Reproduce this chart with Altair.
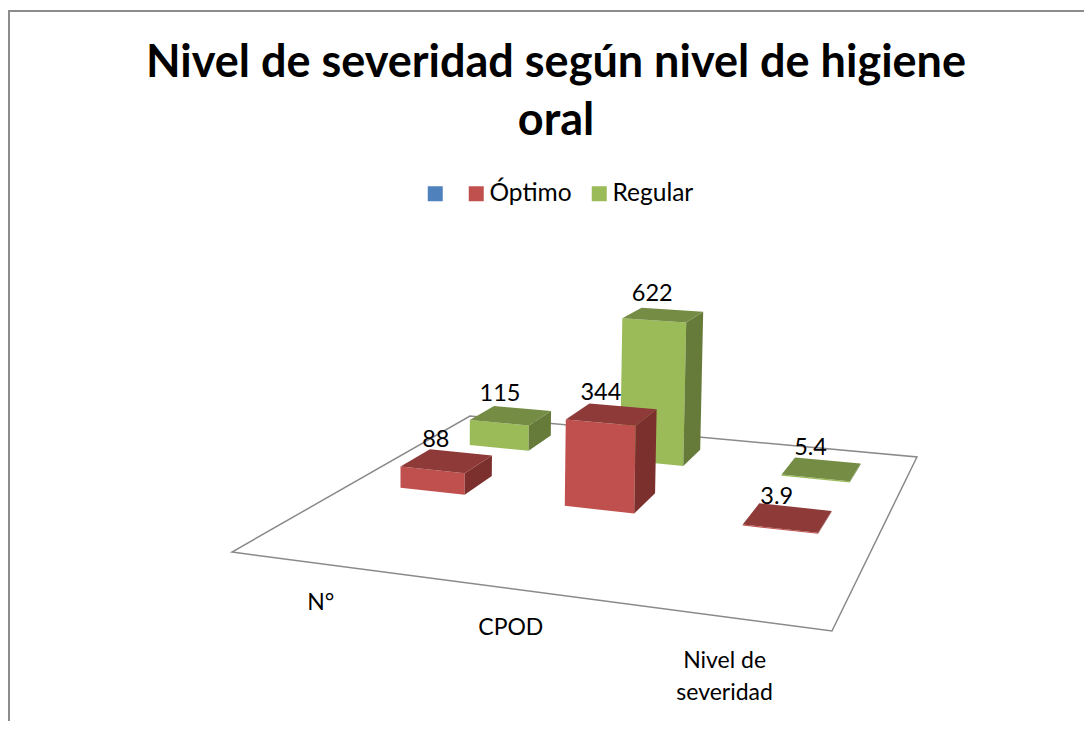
import altair as alt

TITLE = ["Nivel de severidad según  nivel de higiene", "oral"]
CATEGORIES = ["N°", "CPOD", "Nivel de\nseveridad"]
SERIES = ["", "Óptimo", "Regular"]
OPTIMO = [88, 344, 3.9]
REGULAR = [115, 622, 5.4]
BLUE = "#4F81BD"
FRONT = {"Óptimo": "#C0504D", "Regular": "#9BBB59"}
TOP = {"Óptimo": "#8E3A38", "Regular": "#748C43"}
SIDE = {"Óptimo": "#7C302E", "Regular": "#667B3A"}

# projective camera of the 3D floor (unit square) with a height term
a, b, c0, d, e, f, g, h = 490.3, 410.6, 232.0, -4.2, 16.8, 552.0, -0.1318, 0.3673
K, VX, VY = 0.285, 406.0, 14000.0
FLOOR = [(0, 0), (1, 0), (1, 1), (0, 1)]
BAR = 0.1333
MARGIN = 8


def project(u, v, z=0.0):
    cz = -K / VY * z
    w = g * u + h * v + 1 + cz
    return [(a * u + b * v + c0 + VX * cz) / w, (d * u + e * v + f + VY * cz) / w]


def poly(points, series=None):
    ring = [project(*p) for p in points]
    return {"type": "Feature", "properties": {"serie": series},
            "geometry": {"type": "Polygon", "coordinates": [ring + [ring[0]]]}}


faces, labels = [], []
for name, vals, vc in (("Regular", REGULAR, 5 / 6), ("Óptimo", OPTIMO, 1 / 2)):
    for i, val in enumerate(vals):
        uc = (2 * i + 1) / 6
        u0, u1, v0, v1 = uc - BAR / 2, uc + BAR / 2, vc - BAR / 2, vc + BAR / 2
        faces.append(poly([(u0, v0, 0), (u1, v0, 0), (u1, v0, val), (u0, v0, val)], name))
        faces.append(poly([(u1, v0, 0), (u1, v1, 0), (u1, v1, val), (u1, v0, val)], name + " lateral"))
        faces.append(poly([(u0, v0, val), (u1, v0, val), (u1, v1, val), (u0, v1, val)], name + " superior"))
        lon, lat = project(uc, vc, val)
        labels.append({"lon": lon, "lat": lat, "txt": str(val)})

cat_rows = []
for i, cat in enumerate(CATEGORIES):
    lon, lat = project((2 * i + 1) / 6, 0)
    cat_rows.append({"lon": lon + (5 if i == 2 else 0), "lat": lat + (34 if i == 2 else 28), "txt": cat})

domain = SERIES + ["Óptimo lateral", "Óptimo superior", "Regular lateral", "Regular superior"]
colors = [BLUE, FRONT["Óptimo"], FRONT["Regular"], SIDE["Óptimo"], TOP["Óptimo"], SIDE["Regular"], TOP["Regular"]]

proj = alt.Projection(type="identity", scale=1, translate=[-MARGIN, -MARGIN]).to_dict()
FONT = "Lato"

frame = alt.Chart(alt.Data(values=[{"type": "Feature", "properties": {},
                                    "geometry": {"type": "LineString",
                                                 "coordinates": [[9, 760], [9, 11], [1100, 11]]}}])).mark_geoshape(
    filled=False, stroke="#8C8C8C", strokeWidth=2).project(**proj)

floor = alt.Chart(alt.Data(values=[poly(FLOOR)])).mark_geoshape(
    fill="white", stroke="#8A8A8A", strokeWidth=1.5).project(**proj)

bars = alt.Chart(alt.Data(values=faces)).mark_geoshape(strokeWidth=0).encode(
    color=alt.Color("properties.serie:N",
                    scale=alt.Scale(domain=domain, range=colors),
                    legend=alt.Legend(values=SERIES, title=None, orient="none", direction="horizontal",
                                      legendX=415, legendY=173.5, symbolType="square", symbolSize=225,
                                      symbolStrokeWidth=0, labelFont=FONT, labelFontSize=24.5,
                                      labelColor="black", labelOffset=1, columnPadding=15,
                                      gridAlign="none", padding=0, labelLimit=200))
).project(**proj)

value_text = alt.Chart(alt.Data(values=labels)).mark_text(
    font=FONT, fontSize=23.5, color="black", dx=-11, dy=-21, baseline="middle", align="center"
).encode(longitude="lon:Q", latitude="lat:Q", text="txt:N").project(**proj)

cat_text = alt.Chart(alt.Data(values=cat_rows)).mark_text(
    font=FONT, fontSize=23, color="black", baseline="top", align="center", lineBreak="\n", lineHeight=32
).encode(longitude="lon:Q", latitude="lat:Q", text="txt:N").project(**proj)

chart = alt.layer(frame, floor, bars, value_text, cat_text).properties(
    width=1076, height=713, padding=0, autosize=alt.AutoSizeParams(type="none"),
    title=alt.TitleParams(text=TITLE, anchor="middle", offset=0, dy=172, dx=10, font=FONT, fontSize=45,
                          fontWeight="bold", color="black", lineHeight=58, baseline="alphabetic", limit=1060)
).configure_view(stroke=None)

chart.save("out.html", embed_options={"renderer": "svg", "actions": False})
